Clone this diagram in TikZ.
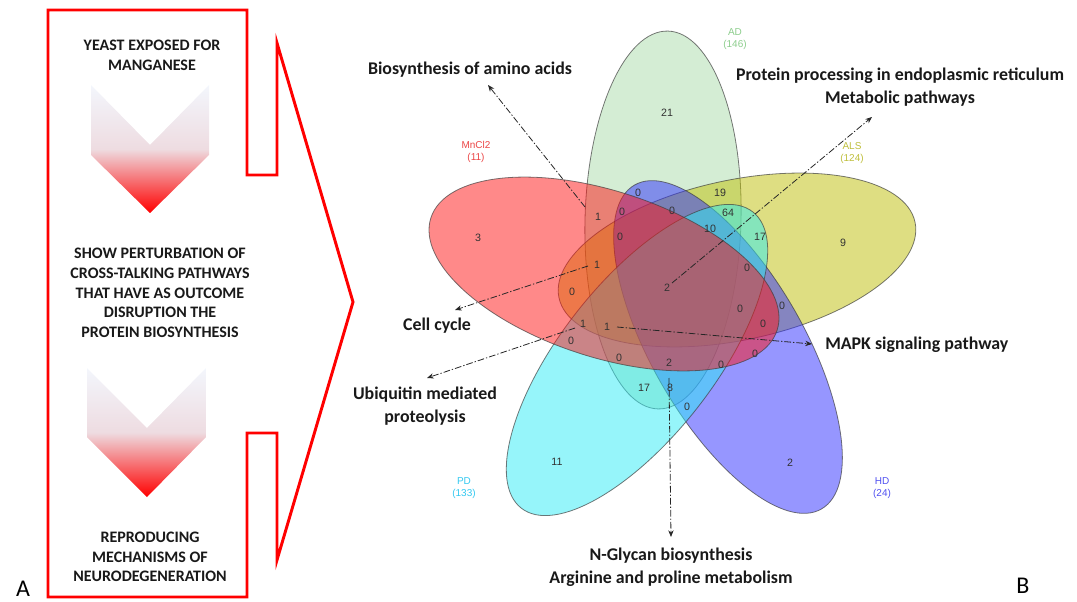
\documentclass[tikz,border=0pt]{standalone}
\usepackage{fontspec}
\setmainfont{Carlito}
\newfontfamily\arialf{Liberation Sans}
\usetikzlibrary{arrows.meta}
\definecolor{adc}{RGB}{170,220,170}
\definecolor{alsc}{RGB}{190,190,5}
\definecolor{hdc}{RGB}{45,45,255}
\definecolor{pdc}{RGB}{45,235,245}
\definecolor{mnc}{RGB}{255,20,20}
\definecolor{chevtop}{RGB}{243,246,252}
\definecolor{chevmid}{RGB}{238,220,225}
\definecolor{txtc}{RGB}{25,25,25}
\definecolor{numc}{RGB}{50,50,50}
\definecolor{adlab}{RGB}{140,205,140}
\definecolor{alslab}{RGB}{190,190,60}
\definecolor{pdlab}{RGB}{50,200,240}
\definecolor{hdlab}{RGB}{80,80,240}
\definecolor{mnlab}{RGB}{235,70,70}
\begin{document}
\begin{tikzpicture}[x=0.75pt,y=-0.75pt,
  venn/.style={draw=black!75, draw opacity=0.7, line width=0.6pt, fill opacity=0.5},
  num/.style={font=\arialf\fontsize{8}{9}\selectfont, text=numc, inner sep=0pt},
  setlab/.style={font=\arialf\fontsize{7.5}{9}\selectfont, align=center, inner sep=0pt},
  pwlab/.style={font=\fontsize{13.4}{17}\selectfont\bfseries, text=txtc, align=center, inner sep=0pt},
  panel/.style={font=\fontsize{12}{14.8}\selectfont\bfseries, text=txtc, align=center, inner sep=0pt},
  chev/.style={top color=chevtop, bottom color=red, middle color=chevmid},
  link/.style={draw=black!85, line width=0.6pt, dash pattern=on 5pt off 1.5pt on 1pt off 1.5pt, -{Stealth[length=5pt,width=4pt]}},
  letter/.style={font=\fontsize{18}{20}\selectfont, text=black, inner sep=0pt},
]
\useasboundingbox (0,0) rectangle (1077,602);

% ---------- Panel A ----------
\draw[red, line width=2.2pt, line join=miter]
  (48,10) -- (247,10) -- (247,175) -- (277,175) -- (277,43) -- (353,302)
  -- (277,560) -- (277,433) -- (247,433) -- (247,597) -- (48,597) -- cycle;

\shade[chev] (91,85) -- (150,145) -- (209,85) -- (209,155) -- (150,213) -- (91,155) -- cycle;
\shade[chev] (87,368) -- (147,428) -- (206,368) -- (206,437) -- (147,497) -- (87,437) -- cycle;

\node[panel] (t1) at (152,55) {YEAST EXPOSED FOR\\MANGANESE};
\node[panel] (t2) at (160,293) {SHOW PERTURBATION OF\\CROSS-TALKING PATHWAYS\\THAT HAVE AS OUTCOME\\DISRUPTION THE\\PROTEIN BIOSYNTHESIS};
\node[panel] (t3) at (150,557) {REPRODUCING\\MECHANISMS OF\\NEURODEGENERATION};

\node[letter] (la) at (23,589) {A};
\node[letter] (lb) at (1023,586) {B};

% ---------- Venn ----------
\path[venn, fill=adc, shift={(663,220)}, rotate=88.5] (0,0) ellipse [x radius=189, y radius=78];
\path[venn, fill=alsc, shift={(737,260)}, rotate=12] (0,0) ellipse [x radius=182, y radius=80];
\path[venn, fill=hdc, shift={(728,347)}, rotate=-60] (0,0) ellipse [x radius=187, y radius=76];
\path[venn, fill=pdc, shift={(637,360)}, rotate=52] (0,0) ellipse [x radius=188, y radius=77];
\path[venn, fill=mnc, shift={(604,274)}, rotate=-18] (0,0) ellipse [x radius=182, y radius=83];

% set labels
\node[setlab, text=mnlab] (lmn) at (476,152) {MnCl2\\(11)};
\node[setlab, text=adlab] (lad) at (735,39) {AD\\(146)};
\node[setlab, text=alslab] (lals) at (852,153) {ALS\\(124)};
\node[setlab, text=pdlab] (lpd) at (464,488) {PD\\(133)};
\node[setlab, text=hdlab] (lhd) at (882,488) {HD\\(24)};

% region counts
\node[num] (n1) at (667,113) {21};
\node[num] (n2) at (478,238) {3};
\node[num] (n3) at (843,243) {9};
\node[num] (n4) at (557,462) {11};
\node[num] (n5) at (790,463) {2};
\node[num] (n6) at (598,217) {1};
\node[num] (n7) at (622,212) {0};
\node[num] (n8) at (638,193) {0};
\node[num] (n9) at (672,211) {0};
\node[num] (n10) at (720,193) {19};
\node[num] (n11) at (728,213) {64};
\node[num] (n12) at (710,229) {10};
\node[num] (n13) at (760,237) {17};
\node[num] (n14) at (620,237) {0};
\node[num] (n15) at (597,265) {1};
\node[num] (n16) at (572,292) {0};
\node[num] (n17) at (667,288) {2};
\node[num] (n18) at (747,268) {0};
\node[num] (n19) at (740,309) {0};
\node[num] (n20) at (782,306) {0};
\node[num] (n21) at (763,324) {0};
\node[num] (n22) at (583,324) {1};
\node[num] (n23) at (607,327) {1};
\node[num] (n24) at (571,341) {0};
\node[num] (n25) at (619,358) {0};
\node[num] (n26) at (669,363) {2};
\node[num] (n27) at (721,365) {0};
\node[num] (n28) at (755,354) {0};
\node[num] (n29) at (644,388) {17};
\node[num] (n30) at (670,388) {8};
\node[num] (n31) at (687,407) {0};

% pathway labels
\node[pwlab] (p1) at (470,70) {Biosynthesis of amino acids};
\node[pwlab] (p2) at (900,87) {Protein processing in endoplasmic reticulum\\Metabolic pathways};
\node[pwlab] (p3) at (437,326) {Cell cycle};
\node[pwlab] (p4) at (425,406) {Ubiquitin mediated\\proteolysis};
\node[pwlab, anchor=west] (p5) at (825,345) {MAPK signaling pathway};
\node[pwlab] (p6) at (671,567) {N-Glycan biosynthesis\\Arginine and proline metabolism};

% connectors
\coordinate (s1) at (585,207); \coordinate (e1) at (488,85);
\coordinate (s2) at (672,283); \coordinate (e2) at (872,117);
\coordinate (s3) at (588,266); \coordinate (e3) at (455,310);
\coordinate (s4) at (575,328); \coordinate (e4) at (427,378);
\coordinate (s5) at (617,327); \coordinate (e5) at (812,344);
\coordinate (s6) at (669,378); \coordinate (e6) at (671,537);
\draw[link] (s1) -- (e1);
\draw[link] (s2) -- (e2);
\draw[link] (s3) -- (e3);
\draw[link] (s4) -- (e4);
\draw[link] (s5) -- (e5);
\draw[link] (s6) -- (e6);
\end{tikzpicture}
\end{document}
